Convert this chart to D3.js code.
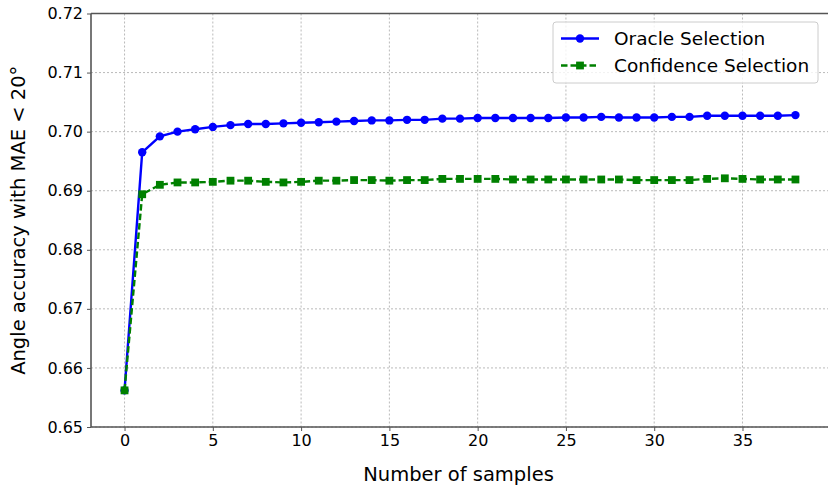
<!DOCTYPE html>
<html>
<head>
<meta charset="utf-8">
<script src="https://cdn.jsdelivr.net/npm/d3@7"></script>
<style>
  body { margin: 0; background: #fff; }
  svg { display: block; font-family: "DejaVu Sans", sans-serif; }
</style>
</head>
<body>
<svg id="chart" width="828" height="487"></svg>
<script>
const samples = d3.range(0, 39);
const oracleSelection = [
  0.6562, 0.6965, 0.6992, 0.7000, 0.7004, 0.7008, 0.7011, 0.7013, 0.7013, 0.7014,
  0.7015, 0.7016, 0.7017, 0.7018, 0.7019, 0.7019, 0.7020, 0.7020, 0.7022, 0.7022,
  0.7023, 0.7023, 0.7023, 0.7023, 0.7023, 0.7024, 0.7024, 0.7025, 0.7024, 0.7024,
  0.7024, 0.7025, 0.7025, 0.7027, 0.7027, 0.7027, 0.7027, 0.7027, 0.7028
];
const confidenceSelection = [
  0.6562, 0.6894, 0.6910, 0.6914, 0.6914, 0.6915, 0.6917, 0.6917, 0.6915, 0.6914,
  0.6915, 0.6917, 0.6917, 0.6918, 0.6918, 0.6917, 0.6918, 0.6918, 0.6920, 0.6920,
  0.6920, 0.6920, 0.6919, 0.6919, 0.6919, 0.6919, 0.6919, 0.6919, 0.6919, 0.6918,
  0.6918, 0.6918, 0.6918, 0.6920, 0.6921, 0.6920, 0.6919, 0.6919, 0.6919
];
const xTicks = [0, 5, 10, 15, 20, 25, 30, 35];
const yTicks = [0.65, 0.66, 0.67, 0.68, 0.69, 0.70, 0.71, 0.72];
const seriesNames = ["Oracle Selection", "Confidence Selection"];

const svg = d3.select("#chart");
const L = 91, R = 829, T = 13.5, B = 427;
const x = d3.scaleLinear().domain([-1.9, 39.9]).range([L, R]);
const y = d3.scaleLinear().domain([0.65, 0.72]).range([B, T]);

// grid
const grid = svg.append("g");
grid.selectAll(".gx").data(xTicks).join("line")
  .attr("x1", d => x(d)).attr("x2", d => x(d)).attr("y1", T).attr("y2", B)
  .attr("stroke", "#a8a8a8").attr("stroke-width", 0.8).attr("stroke-dasharray", "2,2");
grid.selectAll(".gy").data(yTicks).join("line")
  .attr("x1", L).attr("x2", R).attr("y1", d => y(d)).attr("y2", d => y(d))
  .attr("stroke", "#a8a8a8").attr("stroke-width", 0.8).attr("stroke-dasharray", "2,2");

// axes
const xAxis = svg.append("g").attr("transform", `translate(0,${B})`)
  .call(d3.axisBottom(x).tickValues(xTicks).tickSize(4).tickPadding(4).tickFormat(d3.format("d")));
const yAxis = svg.append("g").attr("transform", `translate(${L},0)`)
  .call(d3.axisLeft(y).tickValues(yTicks).tickSize(4).tickPadding(4).tickFormat(d3.format(".2f")));
[xAxis, yAxis].forEach(a => {
  a.select(".domain").remove();
  a.selectAll(".tick line").attr("stroke", "#555").attr("stroke-width", 1);
  a.selectAll(".tick text").attr("fill", "#000").style("font-size", "16px")
    .style("font-family", "DejaVu Sans, sans-serif");
});

// spines
svg.append("line").attr("x1", L).attr("x2", L).attr("y1", T).attr("y2", B)
  .attr("stroke", "#555").attr("stroke-width", 1.6);
svg.append("line").attr("x1", L).attr("x2", R).attr("y1", B).attr("y2", B)
  .attr("stroke", "#555").attr("stroke-width", 1.6);
svg.append("line").attr("x1", L).attr("x2", R).attr("y1", T).attr("y2", T)
  .attr("stroke", "#555").attr("stroke-width", 1.6);

// lines
const lw = 2.4, rr = 4.2, sq = 7.8, dash = "6.5,3";
const line = d3.line().x((d, i) => x(samples[i])).y(d => y(d));
svg.append("path").datum(oracleSelection).attr("d", line)
  .attr("fill", "none").attr("stroke", "#0000ff").attr("stroke-width", lw);
svg.append("g").selectAll("circle").data(oracleSelection).join("circle")
  .attr("cx", (d, i) => x(samples[i])).attr("cy", d => y(d)).attr("r", rr).attr("fill", "#0000ff");

svg.append("path").datum(confidenceSelection).attr("d", line)
  .attr("fill", "none").attr("stroke", "#008000").attr("stroke-width", lw)
  .attr("stroke-dasharray", dash);
svg.append("g").selectAll("rect").data(confidenceSelection).join("rect")
  .attr("x", (d, i) => x(samples[i]) - sq / 2).attr("y", d => y(d) - sq / 2)
  .attr("width", sq).attr("height", sq).attr("fill", "#008000");

// axis labels
svg.append("text").attr("x", (L + 828) / 2 - 1).attr("y", 481).attr("text-anchor", "middle")
  .style("font-size", "19.5px").attr("fill", "#000").text("Number of samples");
svg.append("text").attr("transform", `translate(25,${(T + B) / 2}) rotate(-90)`)
  .attr("text-anchor", "middle").style("font-size", "19.5px").attr("fill", "#000")
  .text("Angle accuracy with MAE < 20°");

// legend
const lg = svg.append("g");
lg.append("rect").attr("x", 553).attr("y", 22).attr("width", 265).attr("height", 61)
  .attr("rx", 3).attr("fill", "#fff").attr("fill-opacity", 0.8)
  .attr("stroke", "#cccccc").attr("stroke-width", 1);
const ly = [38.5, 65.5];
lg.append("line").attr("x1", 561).attr("x2", 599).attr("y1", ly[0]).attr("y2", ly[0])
  .attr("stroke", "#0000ff").attr("stroke-width", lw);
lg.append("circle").attr("cx", 580).attr("cy", ly[0]).attr("r", rr).attr("fill", "#0000ff");
lg.append("line").attr("x1", 561).attr("x2", 599).attr("y1", ly[1]).attr("y2", ly[1])
  .attr("stroke", "#008000").attr("stroke-width", lw).attr("stroke-dasharray", dash);
lg.append("rect").attr("x", 580 - sq / 2).attr("y", ly[1] - sq / 2).attr("width", sq).attr("height", sq)
  .attr("fill", "#008000");
seriesNames.forEach((n, i) => {
  lg.append("text").attr("x", 614).attr("y", ly[i]).attr("dy", "0.35em")
    .style("font-size", "18.5px").attr("fill", "#000").text(n);
});
</script>
</body>
</html>
